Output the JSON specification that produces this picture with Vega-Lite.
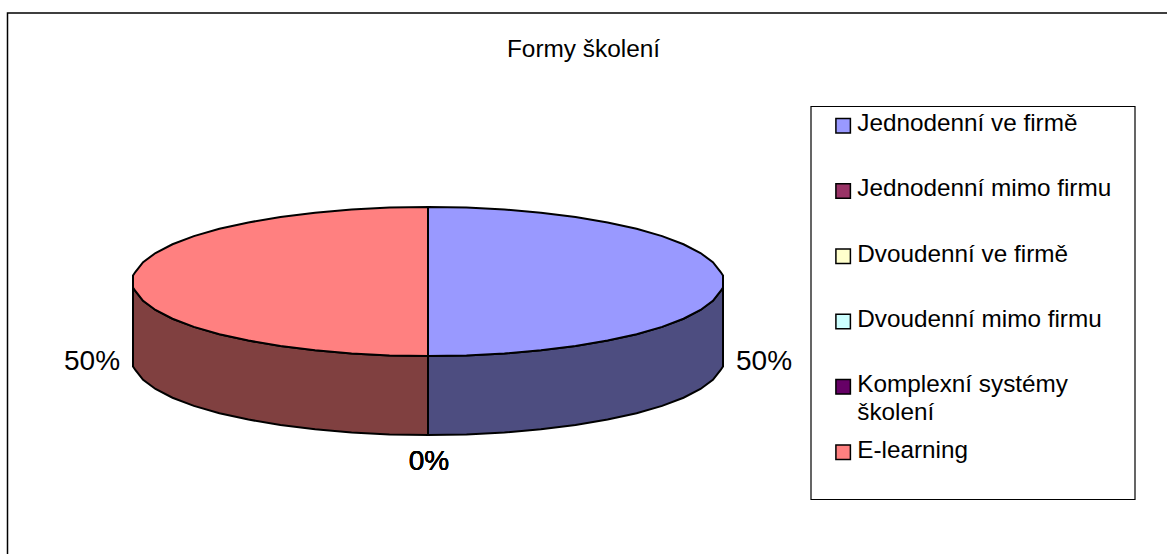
{
"$schema":"https://vega.github.io/schema/vega-lite/v6.json",
"width":1167,"height":554,"padding":0,"autosize":"none",
"background":"white",
"view":{"stroke":null},
"title":{"text":"Formy školení","anchor":"middle","frame":"group","offset":0,"dy":81,"baseline":"alphabetic","font":"Liberation Sans","fontSize":24.4,"fontWeight":"normal","color":"black"},
"datasets":{
"disc":[
{"slice":"Jednodenní ve firmě","x":723,"top":275.5,"mid":287.5,"base":366.5},
{"slice":"Jednodenní ve firmě","x":720.5,"top":271.8,"mid":291.2,"base":370.2},
{"slice":"Jednodenní ve firmě","x":712.9,"top":262.2,"mid":300.8,"base":379.8},
{"slice":"Jednodenní ve firmě","x":700.5,"top":253,"mid":310,"base":389},
{"slice":"Jednodenní ve firmě","x":683.5,"top":244.25,"mid":318.75,"base":397.75},
{"slice":"Jednodenní ve firmě","x":662.1,"top":236.1,"mid":326.9,"base":405.9},
{"slice":"Jednodenní ve firmě","x":636.6,"top":228.8,"mid":334.2,"base":413.2},
{"slice":"Jednodenní ve firmě","x":607.6,"top":222.4,"mid":340.6,"base":419.6},
{"slice":"Jednodenní ve firmě","x":575.5,"top":217,"mid":346,"base":425},
{"slice":"Jednodenní ve firmě","x":540.9,"top":212.7,"mid":350.3,"base":429.3},
{"slice":"Jednodenní ve firmě","x":504.4,"top":209.5,"mid":353.5,"base":432.5},
{"slice":"Jednodenní ve firmě","x":466.5,"top":207.6,"mid":355.4,"base":434.4},
{"slice":"Jednodenní ve firmě","x":428,"top":207,"mid":356,"base":435},
{"slice":"E-learning","x":133,"top":275.5,"mid":287.5,"base":366.5},
{"slice":"E-learning","x":135.5,"top":271.8,"mid":291.2,"base":370.2},
{"slice":"E-learning","x":143.1,"top":262.2,"mid":300.8,"base":379.8},
{"slice":"E-learning","x":155.5,"top":253,"mid":310,"base":389},
{"slice":"E-learning","x":172.5,"top":244.25,"mid":318.75,"base":397.75},
{"slice":"E-learning","x":193.9,"top":236.1,"mid":326.9,"base":405.9},
{"slice":"E-learning","x":219.4,"top":228.8,"mid":334.2,"base":413.2},
{"slice":"E-learning","x":248.4,"top":222.4,"mid":340.6,"base":419.6},
{"slice":"E-learning","x":280.5,"top":217,"mid":346,"base":425},
{"slice":"E-learning","x":315.1,"top":212.7,"mid":350.3,"base":429.3},
{"slice":"E-learning","x":351.6,"top":209.5,"mid":353.5,"base":432.5},
{"slice":"E-learning","x":389.5,"top":207.6,"mid":355.4,"base":434.4},
{"slice":"E-learning","x":428,"top":207,"mid":356,"base":435}
],
"labels":[
{"slice":"Jednodenní ve firmě","share":"50%","x":764,"y":362},
{"slice":"Jednodenní mimo firmu","share":"0%","x":429,"y":462},
{"slice":"Dvoudenní ve firmě","share":"0%","x":429,"y":462},
{"slice":"Dvoudenní mimo firmu","share":"0%","x":429,"y":462},
{"slice":"Komplexní systémy školení","share":"0%","x":429,"y":462},
{"slice":"E-learning","share":"50%","x":92,"y":362}
],
"frame":[
{"x":7.5,"y":554},{"x":7.5,"y":13},{"x":1167,"y":13}
],
"box":[{"x":811,"x2":1135,"y":106.5,"y2":499.5}]
},
"encoding":{
"x":{"field":"x","type":"quantitative","axis":null,"scale":{"domain":[0,1167],"nice":false,"zero":false}},
"y":{"field":"y","type":"quantitative","axis":null,"scale":{"domain":[0,554],"reverse":true,"nice":false,"zero":false}}
},
"layer":[
{"data":{"name":"frame"},"mark":{"type":"line","color":"black","strokeWidth":1.5},"encoding":{"order":{"field":"y","sort":"descending"}}},
{"data":{"name":"box"},"mark":{"type":"rect","fill":"white","stroke":"black","strokeWidth":1.2},"encoding":{"x2":{"field":"x2"},"y2":{"field":"y2"}}},
{"data":{"name":"disc"},"transform":[{"filter":"datum.slice === 'Jednodenní ve firmě'"}],
 "mark":{"type":"area","orient":"vertical","color":"#4d4d80","stroke":"black","strokeWidth":2,"opacity":1},
 "encoding":{"y":{"field":"mid","type":"quantitative"},"y2":{"field":"base"}}},
{"data":{"name":"disc"},"transform":[{"filter":"datum.slice === 'E-learning'"}],
 "mark":{"type":"area","orient":"vertical","color":"#804040","stroke":"black","strokeWidth":2,"opacity":1},
 "encoding":{"y":{"field":"mid","type":"quantitative"},"y2":{"field":"base"}}},
{"data":{"name":"disc"},
 "mark":{"type":"area","orient":"vertical","stroke":"black","strokeWidth":2,"opacity":1},
 "encoding":{"y":{"field":"top","type":"quantitative"},"y2":{"field":"mid"},
  "color":{"field":"slice","type":"nominal","sort":null,
   "scale":{"domain":["Jednodenní ve firmě","Jednodenní mimo firmu","Dvoudenní ve firmě","Dvoudenní mimo firmu","Komplexní systémy školení","E-learning"],"range":["#9999ff","#993366","#ffffcc","#ccffff","#660066","#ff8080"]},
   "legend":{"title":null,"orient":"none","legendX":831,"legendY":113.5,"padding":0,"gridAlign":"all",
    "symbolType":"square","symbolSize":210,"symbolStrokeColor":"black","symbolStrokeWidth":1.5,"symbolOpacity":1,
    "labelFont":"Liberation Sans","labelFontSize":24.3,"labelColor":"black","labelOffset":2,"labelLimit":300,"rowPadding":12.3,
    "labelExpr":"datum.label === 'Komplexní systémy školení' ? ['Komplexní systémy','školení'] : datum.label",
    "encode":{"labels":{"update":{"lineHeight":{"value":28},"dy":{"value":-1.5}}}}}}}},
{"data":{"name":"labels"},"mark":{"type":"text","font":"Liberation Sans","fontSize":28,"color":"black","align":"center","baseline":"middle"},
 "encoding":{"text":{"field":"share","type":"nominal"}}}
]
}
